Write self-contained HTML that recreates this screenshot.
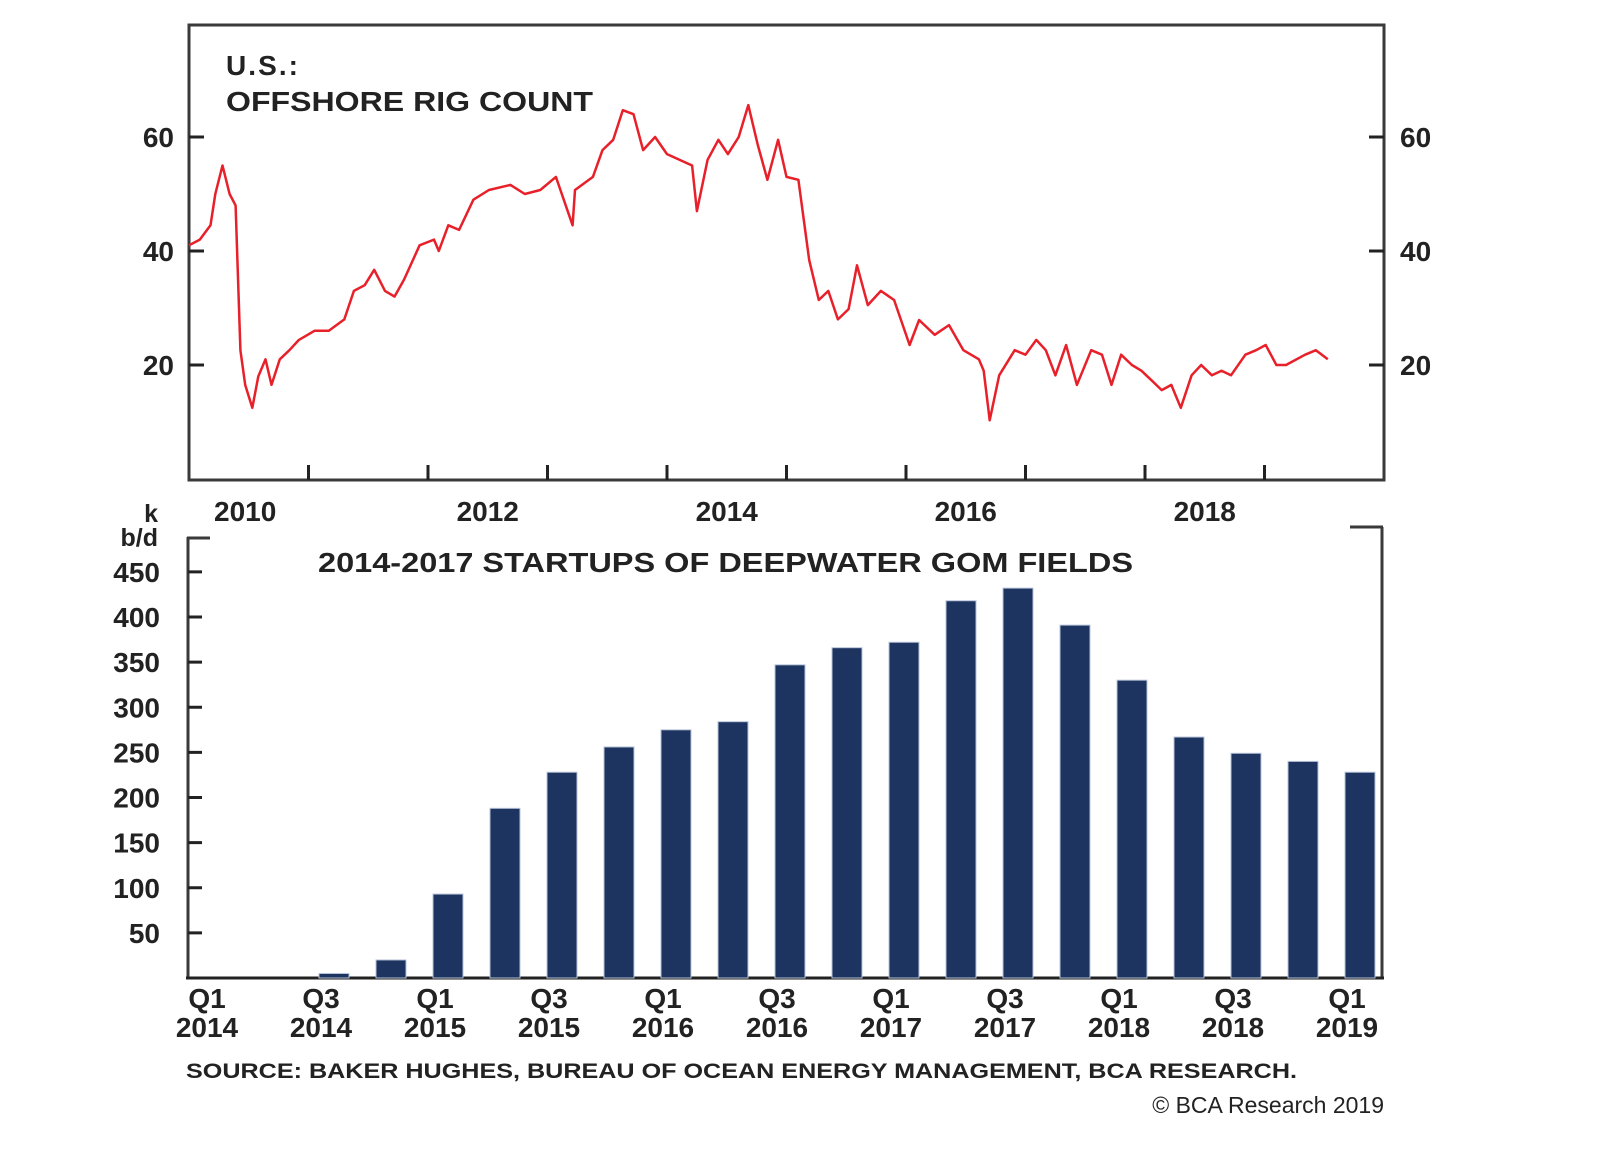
<!DOCTYPE html>
<html><head><meta charset="utf-8"><style>
body{margin:0;background:#fff;}
svg{display:block;font-family:"Liberation Sans",Arial,sans-serif;font-weight:bold;}
</style></head><body>
<svg id="c" width="1600" height="1150" viewBox="0 0 1600 1150">
<rect x="189" y="25" width="1195" height="455" fill="none" stroke="#3a3a3a" stroke-width="3"/>
<text x="226" y="75" font-size="28" fill="#222" textLength="72">U.S.:</text>
<text x="226" y="111" font-size="28" fill="#222" textLength="367" lengthAdjust="spacingAndGlyphs">OFFSHORE RIG COUNT</text>
<g id="topg"></g>
<line x1="188" y1="537" x2="188" y2="978" stroke="#3a3a3a" stroke-width="3"/>
<line x1="187" y1="538" x2="210" y2="538" stroke="#3a3a3a" stroke-width="3"/>
<line x1="1382" y1="527" x2="1382" y2="978" stroke="#3a3a3a" stroke-width="3"/>
<line x1="1350" y1="527" x2="1383" y2="527" stroke="#3a3a3a" stroke-width="3"/>
<line x1="186" y1="978" x2="1384" y2="978" stroke="#222" stroke-width="3"/>
<text x="158" y="522" font-size="25" text-anchor="end" fill="#222">k</text>
<text x="158" y="546" font-size="25" text-anchor="end" fill="#222">b/d</text>
<text x="318" y="572" font-size="28" fill="#222" textLength="815" lengthAdjust="spacingAndGlyphs">2014-2017 STARTUPS OF DEEPWATER GOM FIELDS</text>
<g id="botg"></g>
<text x="186" y="1078" font-size="21" fill="#222" textLength="1111" lengthAdjust="spacingAndGlyphs">SOURCE: BAKER HUGHES, BUREAU OF OCEAN ENERGY MANAGEMENT, BCA RESEARCH.</text>
<text x="1384" y="1113" font-size="23" font-weight="normal" text-anchor="end" fill="#222">© BCA Research 2019</text>
</svg>
<script>
const rigDates=[2010.0,2010.09,2010.18,2010.22,2010.28,2010.34,2010.39,2010.43,2010.47,2010.53,2010.58,2010.64,2010.69,2010.76,2010.84,2010.92,2011.05,2011.17,2011.3,2011.38,2011.47,2011.55,2011.64,2011.72,2011.8,2011.93,2012.05,2012.09,2012.17,2012.26,2012.38,2012.51,2012.69,2012.81,2012.94,2013.07,2013.21,2013.23,2013.38,2013.46,2013.55,2013.63,2013.72,2013.8,2013.9,2014.0,2014.21,2014.25,2014.34,2014.43,2014.51,2014.6,2014.68,2014.76,2014.84,2014.93,2015.0,2015.1,2015.19,2015.27,2015.35,2015.43,2015.52,2015.59,2015.68,2015.79,2015.9,2016.03,2016.11,2016.24,2016.36,2016.48,2016.61,2016.65,2016.7,2016.78,2016.91,2017.0,2017.09,2017.17,2017.25,2017.34,2017.43,2017.55,2017.64,2017.72,2017.8,2017.89,2017.97,2018.05,2018.14,2018.22,2018.3,2018.39,2018.47,2018.56,2018.64,2018.72,2018.84,2018.93,2019.01,2019.1,2019.18,2019.34,2019.43,2019.53];
const rigValues=[41,42,44.5,50,55,50,48,22.6,16.5,12.5,18,21,16.5,21,22.6,24.4,26,26,28,33,34,36.7,33,32,35,41,42,40,44.5,43.7,49,50.7,51.6,50,50.7,53,44.5,50.7,53,57.7,59.5,64.7,64,57.7,60,57,55,47,56,59.5,57,60,65.6,58.6,52.5,59.5,53,52.5,38.4,31.4,33,28,29.8,37.5,30.5,33,31.4,23.5,27.9,25.3,27,22.6,21,19,10.3,18.2,22.6,21.8,24.4,22.6,18.2,23.5,16.5,22.6,21.8,16.5,21.8,20,19,17.4,15.6,16.5,12.5,18.2,20,18.2,19,18.2,21.8,22.6,23.5,20,20,21.8,22.6,21,25.3];
const topYTicks=[20,40,60];
const yearLabels=["2010","2012","2014","2016","2018"];
const yearLabelPos=[2010.47,2012.5,2014.5,2016.5,2018.5];
const yearTicks=[2011,2012,2013,2014,2015,2016,2017,2018,2019];
const quarters=["Q1 2014","Q2 2014","Q3 2014","Q4 2014","Q1 2015","Q2 2015","Q3 2015","Q4 2015","Q1 2016","Q2 2016","Q3 2016","Q4 2016","Q1 2017","Q2 2017","Q3 2017","Q4 2017","Q1 2018","Q2 2018","Q3 2018","Q4 2018","Q1 2019"];
const startupValues=[0,0,5,20,93,188,228,256,275,284,347,366,372,418,432,391,330,267,249,240,228];
const botYTicks=[50,100,150,200,250,300,350,400,450];
const NS="http://www.w3.org/2000/svg";
function mk(p,t,a){const e=document.createElementNS(NS,t);for(const k in a)e.setAttribute(k,a[k]);p.appendChild(e);return e;}
const xT=d=>189+(d-2010)*119.5, yT=v=>479-v*5.7;
const xB=i=>220+i*57, yB=v=>978-v*0.9025;
const gTop=document.getElementById('topg'), gBot=document.getElementById('botg');
topYTicks.forEach(v=>{
 let l=mk(gTop,'line',{x1:189,x2:204,y1:yT(v),y2:yT(v),stroke:'#222','stroke-width':3});
 
 
 let r=mk(gTop,'line',{x1:1369,x2:1384,y1:yT(v),y2:yT(v),stroke:'#222','stroke-width':3});
 
 
 let t=mk(gTop,'text',{x:174,y:yT(v)+10,'font-size':28,'text-anchor':'end',fill:'#222'});t.textContent=v;
 
 
 let t2=mk(gTop,'text',{x:1400,y:yT(v)+10,'font-size':28,fill:'#222'});t2.textContent=v;
 
 
});
yearTicks.forEach(y=>{
 let l=mk(gTop,'line',{x1:xT(y),x2:xT(y),y1:465,y2:480,stroke:'#222','stroke-width':3});
 
 
});
yearLabels.forEach((s,i)=>{
 let t=mk(gTop,'text',{x:xT(yearLabelPos[i]),y:521,'font-size':28,'text-anchor':'middle',fill:'#222'});t.textContent=s;
 
 
});
let pts=rigDates.map((d,i)=>xT(d).toFixed(1)+','+yT(rigValues[i]).toFixed(1)).join(' ');
let pl=mk(gTop,'polyline',{points:pts,fill:'none',stroke:'#e8202a','stroke-width':2.5,'stroke-linejoin':'round'});


botYTicks.forEach(v=>{
 let l=mk(gBot,'line',{x1:188,x2:202,y1:yB(v),y2:yB(v),stroke:'#222','stroke-width':3});
 
 
 let t=mk(gBot,'text',{x:160,y:yB(v)+10,'font-size':28,'text-anchor':'end',fill:'#222'});t.textContent=v;
 
 
});
startupValues.forEach((v,i)=>{
 if(v<=0)return;
 let r=mk(gBot,'rect',{x:xB(i)-15,y:yB(v),width:30,height:978-yB(v),fill:'#1d3461',stroke:'#b8c4d8','stroke-width':1});
 
 
});
quarters.forEach((q,i)=>{
 if(i%2)return;
 const [a,b]=q.split(' ');
 let t=mk(gBot,'text',{x:xB(i)-13,y:1008,'font-size':28,'text-anchor':'middle',fill:'#222'});t.textContent=a;
 
 
 let t2=mk(gBot,'text',{x:xB(i)-13,y:1037,'font-size':28,'text-anchor':'middle',fill:'#222'});t2.textContent=b;
 
 
});
</script>
</body></html>
